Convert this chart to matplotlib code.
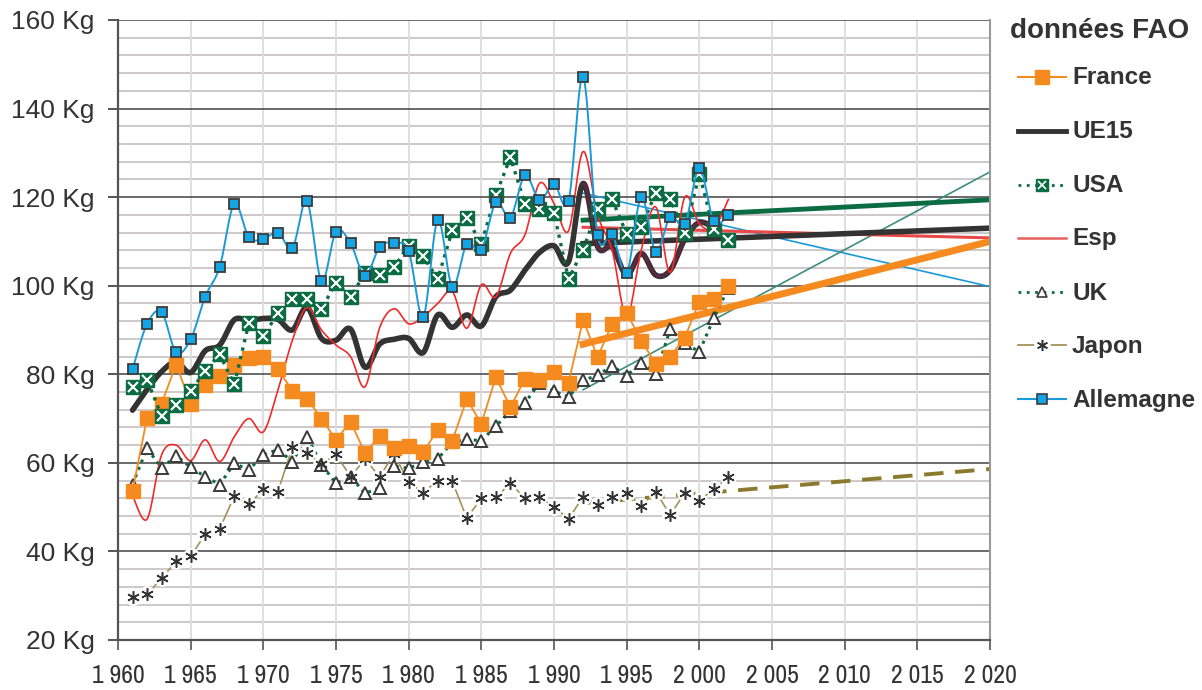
import numpy as np
import matplotlib
matplotlib.use("Agg")
import matplotlib.pyplot as plt
from matplotlib.ticker import MultipleLocator, FuncFormatter, FixedLocator

# ---------------- data ----------------
years = list(range(1961, 2003))
ue15_years = list(range(1961, 2002))

france = [53.7, 70.2, 73.4, 82.2, 73.4, 77.6, 79.5, 82.1, 83.7, 84.0,
          81.1, 76.3, 74.5, 70.0, 65.2, 69.3, 62.2, 66.1, 63.3, 63.7,
          62.4, 67.5, 65.0, 74.4, 68.8, 79.4, 72.5, 79.0, 78.6, 80.5,
          78.1, 92.3, 83.9, 91.4, 93.9, 87.6, 82.4, 84.0, 88.3, 96.4, 97.0, 100.0]
ue15 = [71.9, 76.6, 80.6, 82.8, 80.4, 85.3, 86.6, 92.3, 92.1, 92.6,
        92.4, 90.0, 95.1, 88.1, 87.7, 90.2, 81.6, 86.8, 87.9, 88.1,
        84.9, 93.4, 90.6, 93.4, 90.9, 97.5, 99.0, 103.5, 107.5, 109.0,
        105.4, 123.1, 108.8, 108.7, 102.4, 107.3, 102.4, 103.5, 110.5, 114.3, 113.0]
usa = [77.2, 78.7, 70.6, 73.1, 76.2, 80.8, 84.5, 77.7, 91.5, 88.6,
       93.8, 96.9, 96.9, 94.7, 100.7, 97.5, 102.8, 102.4, 104.2, 109.0,
       106.6, 101.5, 112.5, 115.2, 109.5, 120.5, 129.0, 118.5, 117.3, 116.4,
       101.5, 108.1, 117.3, 119.5, 111.7, 113.2, 121.0, 119.6, 111.8, 125.2, 112.7, 110.3]
esp = [52.6, 47.3, 61.8, 64.0, 60.5, 65.2, 60.3, 65.9, 70.0, 67.0,
       76.4, 87.7, 95.1, 90.0, 86.6, 84.0, 77.2, 90.5, 94.8, 91.4,
       93.0, 96.0, 98.7, 90.4, 100.2, 97.5, 107.3, 111.5, 123.1, 118.6,
       112.4, 130.3, 116.0, 108.0, 93.0, 108.0, 117.8, 103.0, 120.0, 114.0, 113.0, 119.5]
uk = [55.1, 63.3, 58.8, 61.6, 59.0, 56.9, 55.1, 59.9, 58.4, 61.8,
      63.0, 60.3, 65.9, 59.6, 55.4, 56.9, 53.1, 54.4, 59.2, 58.8,
      60.1, 60.9, 64.6, 65.3, 65.0, 68.3, 71.6, 73.5, 78.1, 76.2,
      74.9, 78.6, 79.8, 81.9, 79.7, 82.6, 80.1, 90.2, 87.0, 85.1, 92.7, 99.5]
japon = [29.8, 30.3, 33.9, 37.8, 38.9, 43.9, 45.1, 52.5, 50.6, 54.0,
         53.5, 63.5, 62.3, 59.7, 61.9, 56.9, 60.8, 56.9, 62.0, 55.6,
         53.3, 56.0, 55.8, 47.5, 52.0, 52.2, 55.4, 52.0, 52.2, 50.1,
         47.3, 52.4, 50.5, 52.4, 53.3, 50.3, 53.5, 48.2, 53.3, 51.5, 54.1, 56.7]
allemagne = [81.1, 91.4, 94.0, 85.0, 87.9, 97.5, 104.3, 118.5, 110.9, 110.6,
             112.0, 108.5, 119.1, 101.1, 112.2, 109.6, 102.2, 108.8, 109.6, 107.8,
             93.0, 114.8, 99.8, 109.4, 108.1, 118.8, 115.4, 124.9, 119.4, 122.9,
             119.1, 147.2, 111.4, 111.7, 102.9, 120.0, 107.7, 115.6, 113.9, 126.5, 114.5, 116.0]

# trend lines (values at 1992 and 2020)
trend_years = [1992, 2020]
france_trend = [86.8, 110.0]
ue15_trend = [109.5, 113.0]
usa_trend = [114.8, 119.4]
esp_trend = [113.2, 110.8]
uk_trend = [76.5, 125.7]
japon_trend = [50.9, 58.6]
allemagne_trend = [120.9, 99.8]

legend_title = "données FAO"
legend_labels = ["France", "UE15", "USA", "Esp", "UK", "Japon", "Allemagne"]
x_ticks = list(range(1960, 2021, 5))
y_ticks = list(range(20, 161, 20))

# ---------------- styles ----------------
C_FR = "#F58A1F"
C_UE = "#333333"
C_US = "#0B6B43"
C_ES = "#EE2B2B"
C_UK = "#0B6B43"
C_JP = "#A3925A"
C_DE = "#1B9AD6"
C_DE_FACE = "#14A5E5"
MK_EDGE = "#3c3c3c"
TXT = "#333333"


def smooth(x, y, n=16):
    """Catmull-Rom (Excel-like) smoothed curve through the data points."""
    x = np.asarray(x, float)
    y = np.asarray(y, float)
    P = np.column_stack([x, y])
    P = np.vstack([P[0], P, P[-1]])
    out = []
    t = np.linspace(0, 1, n, endpoint=False)
    for i in range(1, len(P) - 2):
        p0, p1, p2, p3 = P[i - 1], P[i], P[i + 1], P[i + 2]
        b1 = p1 + (p2 - p0) / 6.0
        b2 = p2 - (p3 - p1) / 6.0
        seg = ((1 - t) ** 3)[:, None] * p1 + (3 * (1 - t) ** 2 * t)[:, None] * b1 \
            + (3 * (1 - t) * t ** 2)[:, None] * b2 + (t ** 3)[:, None] * p2
        out.append(seg)
    out.append(P[-2][None, :])
    out = np.vstack(out)
    return out[:, 0], out[:, 1]


W, H = 1202, 690
fig = plt.figure(figsize=(W / 100, H / 100), dpi=100)
ax = fig.add_axes([118 / W, 1 - 640 / H, (990 - 118) / W, (640 - 20) / H])

ax.set_xlim(1960, 2020)
ax.set_ylim(20, 160)

# grid
ax.yaxis.set_major_locator(FixedLocator(y_ticks))
ax.yaxis.set_minor_locator(MultipleLocator(4))
ax.xaxis.set_major_locator(FixedLocator(x_ticks))
for v in np.arange(24, 160, 4):
    if v % 20 != 0:
        ax.axhline(v, color="#cbc4c4", lw=1.3, zorder=0.5)
for v in x_ticks[1:-1]:
    ax.axvline(v, color="#dcdcdc", lw=1.3, zorder=0.6)
for v in y_ticks[1:]:
    ax.axhline(v, color="#505050", lw=1.2, zorder=0.7)

for s in ["left", "bottom"]:
    ax.spines[s].set_color("#555555")
    ax.spines[s].set_linewidth(1.6)
ax.spines["right"].set_color("#9a9a9a")
ax.spines["right"].set_linewidth(1.5)
ax.spines["top"].set_visible(False)

ax.tick_params(axis="y", which="major", direction="out", length=7, width=1.4,
               color="#555555", pad=10, labelsize=19, labelcolor=TXT)
ax.tick_params(axis="y", which="minor", length=0)
ax.tick_params(axis="x", which="major", direction="out", length=7, width=1.2,
               color="#555555", pad=10.5, labelsize=18.5, labelcolor=TXT)
ax.yaxis.set_major_formatter(FuncFormatter(lambda v, p: f"{int(v)} Kg"))
ax.xaxis.set_major_formatter(FuncFormatter(lambda v, p: f"{int(v):,}".replace(",", " ")))
for lab in ax.get_yticklabels():
    lab.set_family(["Liberation Sans", "DejaVu Sans"])
for lab in ax.get_xticklabels():
    lab.set_family(["Archivo Narrow", "Liberation Sans", "DejaVu Sans"])

# ---------------- trend lines ----------------
ax.plot(trend_years, allemagne_trend, color=C_DE, lw=1.2, zorder=2)
ax.plot(trend_years, uk_trend, color="#3E8E7E", lw=1.2, zorder=2)
ax.plot(trend_years, esp_trend, color="#E84848", lw=2.2, zorder=2.1)
ax.plot(trend_years, ue15_trend, color="#333333", lw=4, zorder=2.2)
ax.plot(trend_years, usa_trend, color=C_US, lw=3.5, zorder=2.2)
ax.plot(trend_years, france_trend, color=C_FR, lw=5, zorder=2.3)
ax.plot(trend_years, japon_trend, color="#8B7A2E", lw=2.8, ls=(0, (5, 3)), zorder=2.3)

# ---------------- series ----------------
# UE15
xs, ys = smooth(ue15_years, ue15)
ax.plot(xs, ys, color=C_UE, lw=4, zorder=3, solid_capstyle="round")
m = xs >= 1992
ax.plot(xs[m], ys[m], color="#5c2741", lw=2.0, zorder=3.05)

# Esp
xs, ys = smooth(years, esp)
ax.plot(xs, ys, color=C_ES, lw=1.2, zorder=3.1)

# UK
ax.plot(years, uk, color=C_UK, lw=2.2, ls=(0, (1, 1.6)), zorder=3.3)
ax.plot(years, uk, ls="none", marker="^", ms=8, mfc="white", mec="#3a3a3a", mew=1.4, zorder=3.4)

# Japon
ax.plot(years, japon, color=C_JP, lw=1.2, zorder=3.3)
ax.plot(years, japon, ls="none", marker="o", ms=12, mfc="white", mec="none", zorder=3.35)
ax.plot(years, japon, ls="none", marker=(6, 2, 0), ms=9, mec="#333333", mew=1.1, zorder=3.4)

# France
ax.plot(years, france, color=C_FR, lw=1.3, zorder=3.6)
ax.plot(years, france, ls="none", marker="s", ms=10, mfc=C_FR, mec=C_FR, zorder=3.7)

# USA
ax.plot(years, usa, color=C_US, lw=2.4, ls=(0, (1, 1.6)), zorder=4)
ax.plot(years, usa, ls="none", marker="s", ms=10.5, mfc=C_US, mec=C_US, zorder=4.1)
ax.plot(years, usa, ls="none", marker="x", ms=6.5, mec="white", mew=1.5, zorder=4.2)

# Allemagne
xs, ys = smooth(years, allemagne)
ax.plot(xs, ys, color=C_DE, lw=1.4, zorder=5)
ax.plot(years, allemagne, ls="none", marker="s", ms=7, mfc=C_DE_FACE, mec=MK_EDGE, mew=1.3, zorder=5.1)

# ---------------- legend ----------------
lg = fig.add_axes([0, 0, 1, 1], facecolor="none")
lg.set_xlim(0, W)
lg.set_ylim(H, 0)
lg.axis("off")
lfont = dict(family=["Liberation Sans", "DejaVu Sans"], weight="bold", color=TXT)
lg.text(1010, 31, legend_title, fontsize=20, va="center", ha="left", **lfont)
rows = [77, 131, 185, 238, 292, 345, 399]
x0, x1, xm = 1018, 1066, 1042
# France
lg.plot([x0, x1], [rows[0]] * 2, color=C_FR, lw=1.5)
lg.plot([xm], [rows[0]], marker="s", ms=10, color=C_FR)
# UE15
lg.plot([x0, x1], [rows[1]] * 2, color=C_UE, lw=3.5)
# USA
lg.plot([x0, x1], [rows[2]] * 2, color=C_US, lw=2, ls=(0, (1, 2)))
lg.plot([xm], [rows[2]], marker="s", ms=9, color=C_US)
lg.plot([xm], [rows[2]], marker="x", ms=5.5, mec="white", mew=1.2)
# Esp
lg.plot([x0, x1], [rows[3]] * 2, color="#E86060", lw=1.8)
# UK
lg.plot([x0, x1], [rows[4]] * 2, color=C_UK, lw=2, ls=(0, (1, 2)))
lg.plot([xm], [rows[4]], marker="^", ms=6.5, mfc="white", mec="#3a3a3a", mew=1.2)
# Japon
lg.plot([x0, x1], [rows[5]] * 2, color=C_JP, lw=1.3)
lg.plot([xm], [rows[5]], marker="o", ms=12, mfc="white", mec="none")
lg.plot([xm], [rows[5]], marker=(6, 2, 0), ms=8, mec="#333333", mew=1.1)
# Allemagne
lg.plot([x0, x1], [rows[6]] * 2, color=C_DE, lw=1.5)
lg.plot([xm], [rows[6]], marker="s", ms=6.5, mfc=C_DE_FACE, mec=MK_EDGE, mew=1.2)
for r, lab in zip(rows, legend_labels):
    lg.text(1072, r + 1, lab, fontsize=17.5, va="center", ha="left", **lfont)

fig.savefig("out.png", dpi=100)
